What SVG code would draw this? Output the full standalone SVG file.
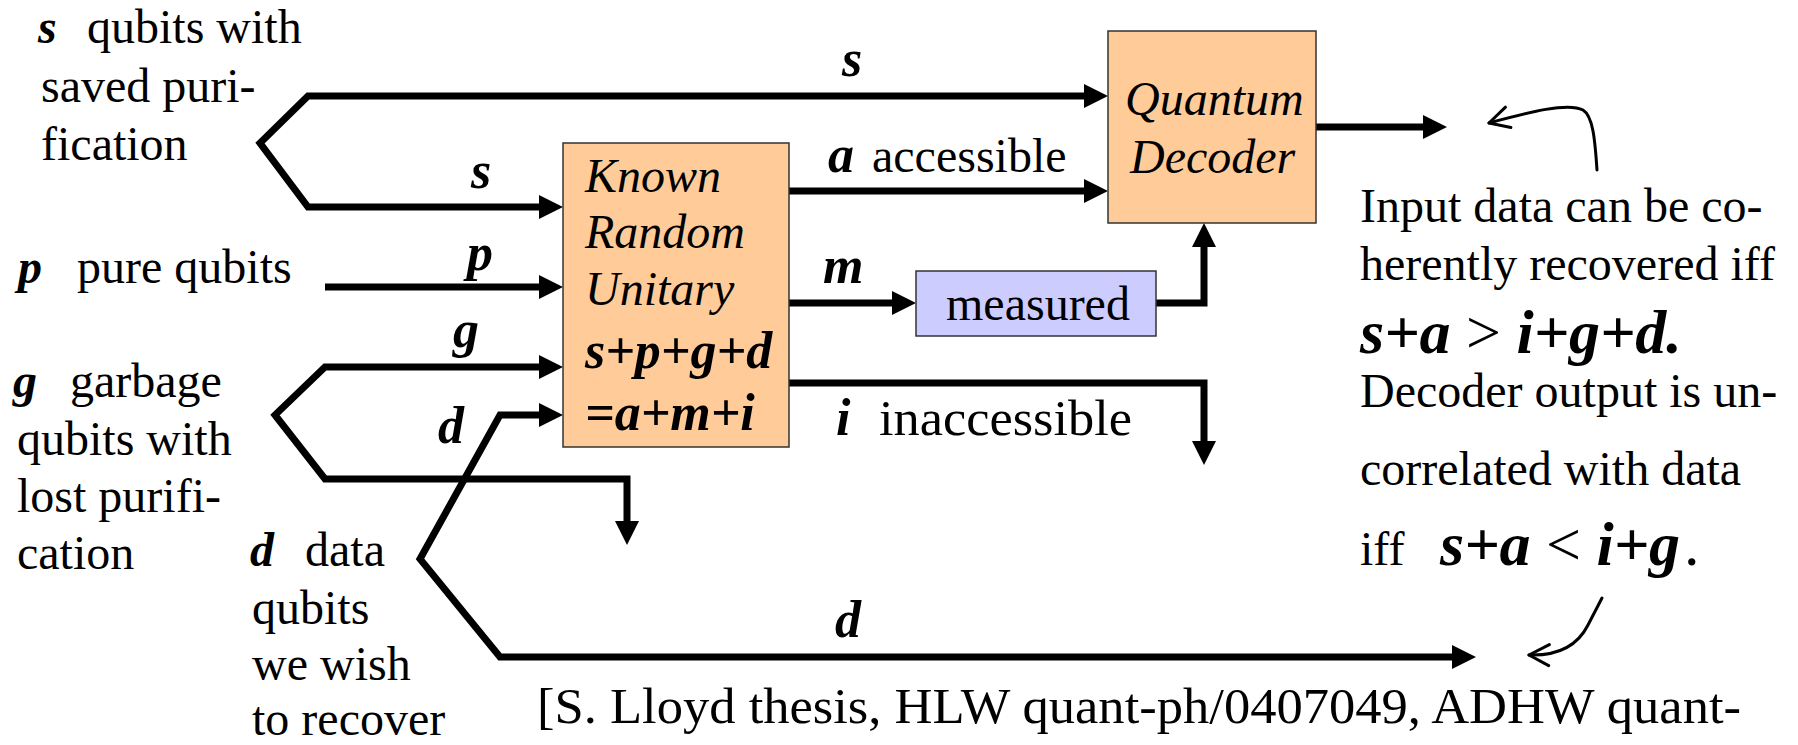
<svg xmlns="http://www.w3.org/2000/svg" width="1798" height="745" viewBox="0 0 1798 745">
<style>
text{font-family:"Liberation Serif","Times New Roman",serif;font-size:48px;fill:#000}
.v{font-weight:bold;font-style:italic}
.lbl{font-size:52px;font-weight:bold;font-style:italic}
.it{font-style:italic}
.eq{font-size:62px}
.box{stroke:#333;stroke-width:1.5}
.wire{fill:none;stroke:#000;stroke-width:7;stroke-linejoin:miter;stroke-miterlimit:10}
.thin{fill:none;stroke:#000;stroke-width:3;stroke-linecap:round}
</style>
<defs>
<marker id="ah" viewBox="0 0 24 24" markerWidth="24" markerHeight="24" markerUnits="userSpaceOnUse" refX="1" refY="12" orient="auto-start-reverse">
<path d="M0,0 L24,12 L0,24 z" fill="#000"/>
</marker>
<marker id="open" viewBox="-2 -14 26 28" markerWidth="26" markerHeight="28" markerUnits="userSpaceOnUse" refX="0" refY="0" orient="auto">
<path d="M20,-11 L0,0 L20,10" fill="none" stroke="#000" stroke-width="3" stroke-linecap="round" stroke-linejoin="round"/>
</marker>
</defs>
<rect width="1798" height="745" fill="#fff"/>

<g id="connectors">
<path class="wire" d="M1085,96 L308,96 L260,143 L308,207 L540,207" marker-start="url(#ah)" marker-end="url(#ah)"/>
<path class="wire" d="M325,287 L540,287" marker-end="url(#ah)"/>
<path class="wire" d="M540,367 L325,367 L275,415 L325,479 L627,479 L627,522" marker-start="url(#ah)" marker-end="url(#ah)"/>
<path class="wire" d="M540,415 L500,415 L420,559 L500,657 L1453,657" marker-start="url(#ah)" marker-end="url(#ah)"/>
<path class="wire" d="M789,191 L1085,191" marker-end="url(#ah)"/>
<path class="wire" d="M789,303 L893,303" marker-end="url(#ah)"/>
<path class="wire" d="M1156,303 L1204,303 L1204,246" marker-end="url(#ah)"/>
<path class="wire" d="M789,383 L1204,383 L1204,442" marker-end="url(#ah)"/>
<path class="wire" d="M1316,127 L1424,127" marker-end="url(#ah)"/>
<path class="thin" d="M1489,123 C1530,112 1568,102 1583,110 C1593,116 1595,140 1597,170" marker-start="url(#open)"/>
<path class="thin" d="M1529,655 C1560,656 1578,645 1588,625 L1602,598" marker-start="url(#open)"/>
</g>

<g id="wire-labels">
<text class="lbl" x="842" y="76">s</text>
<text x="828" y="172"><tspan class="lbl">a</tspan><tspan x="872">accessible</tspan></text>
<text class="lbl" x="823" y="283">m</text>
<text x="836" y="435"><tspan class="lbl">i</tspan><tspan x="879" textLength="253" lengthAdjust="spacingAndGlyphs" style="font-size:51px">inaccessible</tspan></text>
<text class="lbl" x="471" y="188">s</text>
<text class="lbl" x="467" y="270">p</text>
<text class="lbl" x="453" y="347">g</text>
<text class="lbl" x="438" y="443">d</text>
<text class="lbl" x="835" y="637">d</text>
</g>

<g id="input-s">
<text x="38" y="43"><tspan class="v">s</tspan><tspan x="87">qubits with</tspan></text>
<text x="41" y="102">saved puri-</text>
<text x="41" y="160">fication</text>
</g>
<g id="input-p">
<text x="18" y="283"><tspan class="v">p</tspan><tspan x="77">pure qubits</tspan></text>
</g>
<g id="input-g">
<text x="13" y="397"><tspan class="v">g</tspan><tspan x="70">garbage</tspan></text>
<text x="17" y="455">qubits with</text>
<text x="17" y="512">lost purifi-</text>
<text x="17" y="569">cation</text>
</g>
<g id="input-d">
<text x="250" y="566"><tspan class="v">d</tspan><tspan x="305">data</tspan></text>
<text x="252" y="624">qubits</text>
<text x="252" y="680">we wish</text>
<text x="252" y="735">to recover</text>
</g>

<g id="known-random-unitary">
<rect class="box" x="563" y="143" width="226" height="304" fill="#FFCC99"/>
<text class="it" x="585" y="192">Known</text>
<text class="it" x="585" y="248">Random</text>
<text class="it" x="585" y="305">Unitary</text>
<text class="lbl" x="585" y="368">s+p+g+d</text>
<text class="lbl" x="585" y="430">=a+m+i</text>
</g>

<g id="quantum-decoder">
<rect class="box" x="1108" y="31" width="208" height="192" fill="#FFCC99"/>
<text class="it" x="1125" y="115">Quantum</text>
<text class="it" x="1130" y="173">Decoder</text>
</g>

<g id="measured">
<rect class="box" x="916" y="271" width="240" height="65" fill="#CCCCFF"/>
<text x="946" y="320">measured</text>
</g>

<g id="note">
<text x="1360" y="222">Input data can be co-</text>
<text x="1360" y="280">herently recovered iff</text>
<text class="eq" x="1360" y="353"><tspan class="v">s+a</tspan> &gt; <tspan class="v">i+g+d.</tspan></text>
<text x="1360" y="407">Decoder output is un-</text>
<text x="1360" y="485">correlated with data</text>
<text x="1360" y="565">iff<tspan class="v eq" x="1440">s+a</tspan><tspan class="eq"> &lt; </tspan><tspan class="v eq">i+g</tspan><tspan class="eq" x="1684">.</tspan></text>
</g>

<g id="citation">
<text x="537" y="723" textLength="1204" lengthAdjust="spacingAndGlyphs" style="font-size:50px">[S. Lloyd thesis, HLW quant-ph/0407049, ADHW quant-</text>
</g>
</svg>
